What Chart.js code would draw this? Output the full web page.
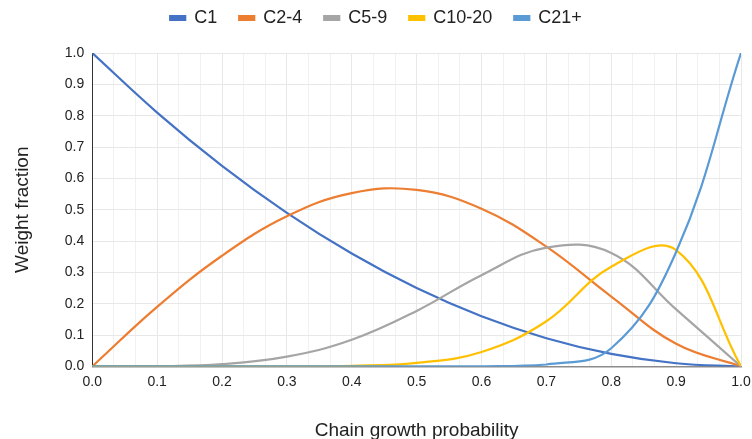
<!DOCTYPE html>
<html>
<head>
<meta charset="utf-8">
<script src="https://cdn.jsdelivr.net/npm/chart.js@4.4.1/dist/chart.umd.min.js"></script>
<style>
	html, body { margin: 0; padding: 0; background: #fff; }
	#wrap { width: 752px; height: 439px; }
</style>
</head>
<body>
<div id="wrap"><canvas id="asfChart" width="752" height="439"></canvas></div>
<script>
// Weight fraction of each carbon-number cut vs chain growth probability

const growth = [0.0, 0.1, 0.2, 0.3, 0.4, 0.5, 0.6, 0.7, 0.8, 0.9, 1.0];

const c1 = [1.0, 0.81, 0.64, 0.49, 0.36, 0.25, 0.16, 0.09, 0.04, 0.01, 0.0];
const c2to4 = [0.0, 0.19, 0.353, 0.479, 0.553, 0.563, 0.503, 0.382, 0.223, 0.072, 0.0];
const c5to9 = [0.0, 0.0005, 0.007, 0.031, 0.085, 0.177, 0.291, 0.379, 0.362, 0.182, 0.0];
const c10to20 = [0.0, 0.0, 0.0, 0.0001, 0.002, 0.011, 0.046, 0.144, 0.318, 0.371, 0.0];
const c21plus = [0.0, 0.0, 0.0, 0.0, 0.0, 0.0, 0.0003, 0.006, 0.058, 0.365, 1.0];

const seriesNames = ['C1', 'C2-4', 'C5-9', 'C10-20', 'C21+'];
const seriesColors = ['#4472c4', '#ed7d31', '#a5a5a5', '#ffc000', '#5b9bd5'];

const xTickLabels = ['0.0', '0.1', '0.2', '0.3', '0.4', '0.5', '0.6', '0.7', '0.8', '0.9', '1.0'];
const yTickLabels = ['0.0', '0.1', '0.2', '0.3', '0.4', '0.5', '0.6', '0.7', '0.8', '0.9', '1.0'];

const allSeries = [c1, c2to4, c5to9, c10to20, c21plus];

const datasets = allSeries.map((vals, i) => ({
	label: seriesNames[i],
	data: vals.map((v, j) => ({ x: growth[j], y: v })),
	borderColor: seriesColors[i],
	backgroundColor: seriesColors[i],
	borderWidth: 2.2,
	pointRadius: 0,
	tension: 0.4,
	fill: false,
	order: allSeries.length - i // later series drawn on top
}));

// extra room under the legend
const legendGap = {
	id: 'legendGap',
	beforeInit(chart) {
		const fit = chart.legend.fit;
		chart.legend.fit = function () {
			fit.call(this);
			this.height += 16;
		};
	}
};

Chart.defaults.font.family = '"Liberation Sans", Arial, sans-serif';
Chart.defaults.color = '#222';

new Chart(document.getElementById('asfChart'), {
	type: 'line',
	data: { datasets },
	plugins: [legendGap],
	options: {
		responsive: false,
		animation: false,
		layout: { padding: { left: 0, right: 0, top: -13, bottom: -3 } },
		plugins: {
			legend: {
				position: 'top',
				labels: {
					boxWidth: 15,
					boxHeight: 4,
					padding: 22,
					font: { size: 18 },
					color: '#222',
					sort: (a, b) => a.datasetIndex - b.datasetIndex
				}
			},
			tooltip: { enabled: false }
		},
		scales: {
			x: {
				type: 'linear',
				min: 0,
				max: 1,
				afterBuildTicks: (scale) => {
					scale.ticks = Array.from({ length: 31 }, (_, i) => ({ value: i / 30 }));
				},
				afterFit: (scale) => {
					scale.paddingRight = 11;
				},
				ticks: {
					autoSkip: false,
					maxRotation: 0,
					padding: 7,
					font: { size: 14 },
					callback: (v, i) => (i % 3 === 0 ? xTickLabels[i / 3] : '')
				},
				grid: {
					drawTicks: false,
					color: (ctx) => (ctx.index % 3 === 0 ? '#e8e8e8' : '#f1f1f1')
				},
				border: { color: '#8c8c8c', width: 1.5 },
				title: {
					display: true,
					text: 'Chain growth probability',
					font: { size: 19 },
					color: '#222',
					padding: { top: 22, bottom: 0 }
				}
			},
			y: {
				min: 0,
				max: 1,
				ticks: {
					stepSize: 0.1,
					padding: 8,
					font: { size: 14 },
					callback: (v, i) => yTickLabels[i]
				},
				grid: { drawTicks: false, color: '#e8e8e8' },
				border: { color: '#333', width: 1 },
				title: {
					display: true,
					text: 'Weight fraction',
					font: { size: 19 },
					color: '#222',
					padding: { top: 11, bottom: 23 }
				}
			}
		}
	}
});
</script>
</body>
</html>
